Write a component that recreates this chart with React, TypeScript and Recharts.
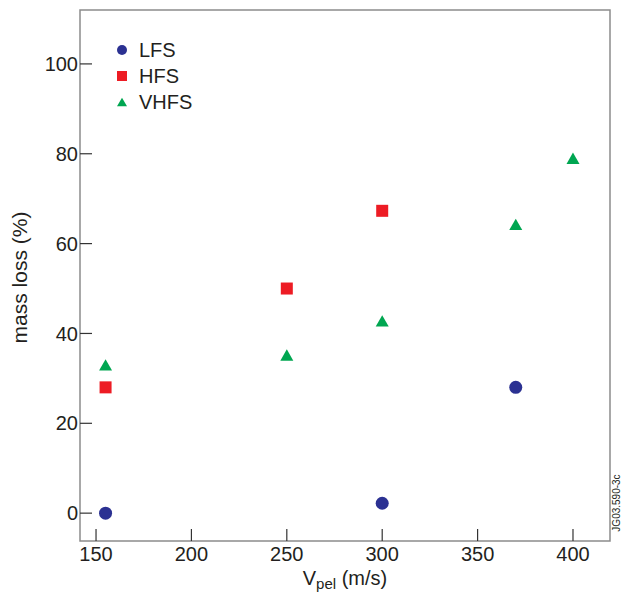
import React from 'react'
import {
  ScatterChart,
  Scatter,
  XAxis,
  YAxis,
  ReferenceArea,
} from 'recharts'

// pellet speed (m/s) and mass loss (%) per launch location
const LFS_V = [155, 300, 370]
const LFS_LOSS = [0, 2.2, 28]
const HFS_V = [155, 250, 300]
const HFS_LOSS = [28, 50, 67.3]
const VHFS_V = [155, 250, 300, 370, 400]
const VHFS_LOSS = [33, 35.2, 42.8, 64.3, 79]

const X_TICKS = [150, 200, 250, 300, 350, 400]
const Y_TICKS = [0, 20, 40, 60, 80, 100]
const X_DOMAIN: [number, number] = [141.6, 419.4]
const Y_DOMAIN: [number, number] = [-6.2, 112]

const SERIES = [
  { name: 'LFS', color: '#2b3192', shape: 'circle', v: LFS_V, loss: LFS_LOSS },
  { name: 'HFS', color: '#ed1c24', shape: 'square', v: HFS_V, loss: HFS_LOSS },
  { name: 'VHFS', color: '#00a651', shape: 'triangle', v: VHFS_V, loss: VHFS_LOSS },
]

const FONT = '"Liberation Sans", Arial, Helvetica, sans-serif'
const TEXT = '#231f20'
const TICK_MARGIN_X = 6
const TICK_MARGIN_Y = 2

const Marker = ({ shape, color, cx, cy, s }: any) => {
  if (shape === 'circle') return <circle cx={cx} cy={cy} r={s / 2} fill={color} />
  if (shape === 'square')
    return <rect x={cx - s / 2} y={cy - s / 2} width={s} height={s} fill={color} />
  const h = s * 0.87
  return (
    <polygon
      points={`${cx - s / 2},${cy + h / 2} ${cx + s / 2},${cy + h / 2} ${cx},${cy - h / 2}`}
      fill={color}
    />
  )
}

const XTick = ({ x, y, payload }: any) => {
  const axisY = y - TICK_MARGIN_X
  return (
    <g>
      <line x1={x} x2={x} y1={axisY} y2={axisY - 12} stroke="#333" strokeWidth={1.2} />
      <text x={x} y={y} dy="0.71em" textAnchor="middle" fontSize={20} fill={TEXT} fontFamily={FONT}>
        {payload.value}
      </text>
    </g>
  )
}

const YTick = ({ x, y, payload }: any) => {
  const axisX = x + TICK_MARGIN_Y
  return (
    <g>
      <line x1={axisX} x2={axisX + 12} y1={y} y2={y} stroke="#333" strokeWidth={1.2} />
      <text x={x} y={y} dy="0.36em" textAnchor="end" fontSize={20} fill={TEXT} fontFamily={FONT}>
        {payload.value}
      </text>
    </g>
  )
}

export default function App() {
  return (
    <div style={{ position: 'absolute', left: 0, top: 0, width: 621, height: 593, background: '#fff' }}>
      <ScatterChart width={621} height={593} margin={{ top: 10, right: 11, bottom: 0, left: 0 }}>
        <XAxis
          type="number"
          dataKey="v"
          domain={X_DOMAIN}
          ticks={X_TICKS}
          allowDataOverflow
          height={52}
          tickSize={0}
          tickMargin={TICK_MARGIN_X}
          tick={<XTick />}
          axisLine={false}
          label={{
            content: ({ viewBox }: any) => (
              <text
                x={viewBox.x + viewBox.width / 2}
                y={viewBox.y + 44}
                textAnchor="middle"
                fontSize={20}
                fill={TEXT}
                fontFamily={FONT}
              >
                V
                <tspan fontSize={15} dy={4}>pel</tspan>
                <tspan dy={-4}> (m/s)</tspan>
              </text>
            ),
          }}
        />
        <YAxis
          type="number"
          dataKey="loss"
          domain={Y_DOMAIN}
          ticks={Y_TICKS}
          allowDataOverflow
          width={80}
          tickSize={0}
          tickMargin={TICK_MARGIN_Y}
          tick={<YTick />}
          axisLine={false}
          label={{
            content: ({ viewBox }: any) => (
              <text
                x={27}
                y={viewBox.y + viewBox.height / 2 + 2}
                transform={`rotate(-90 27 ${viewBox.y + viewBox.height / 2 + 2})`}
                textAnchor="middle"
                fontSize={21}
                fill={TEXT}
                fontFamily={FONT}
              >
                mass loss (%)
              </text>
            ),
          }}
        />
        <ReferenceArea
          x1={X_DOMAIN[0]}
          x2={X_DOMAIN[1]}
          y1={Y_DOMAIN[0]}
          y2={Y_DOMAIN[1]}
          fill="none"
          stroke="#8c8c8c"
          strokeWidth={1.5}
          ifOverflow="visible"
        />
        {SERIES.map((s) => (
          <Scatter
            key={s.name}
            name={s.name}
            data={s.v.map((v, i) => ({ v, loss: s.loss[i] }))}
            fill={s.color}
            isAnimationActive={false}
            shape={(p: any) => (
              <Marker shape={s.shape} color={s.color} cx={p.cx} cy={p.cy} s={s.shape === 'square' ? 12 : 13} />
            )}
          />
        ))}
      </ScatterChart>
      <div
        style={{
          position: 'absolute',
          left: 114,
          top: 37,
          fontFamily: FONT,
          fontSize: 20,
          color: TEXT,
        }}
      >
        {SERIES.map((s) => (
          <div key={s.name} style={{ display: 'flex', alignItems: 'center', height: 26 }}>
            <svg width={16} height={16} style={{ marginRight: 9 }}>
              <Marker shape={s.shape} color={s.color} cx={8} cy={8} s={10} />
            </svg>
            <span>{s.name}</span>
          </div>
        ))}
      </div>
      <div
        style={{
          position: 'absolute',
          left: 616,
          top: 503,
          transform: 'translate(-50%, -50%) rotate(-90deg)',
          fontFamily: FONT,
          fontSize: 10,
          color: TEXT,
          whiteSpace: 'nowrap',
        }}
      >
        JG03.590-3c
      </div>
    </div>
  )
}
